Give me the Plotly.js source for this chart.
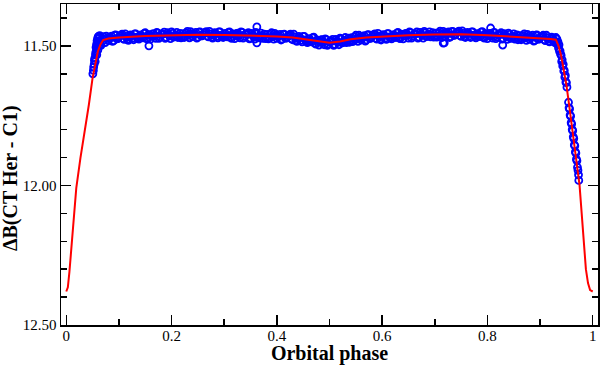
<!DOCTYPE html>
<html>
<head>
<meta charset="utf-8">
<script src="https://cdn.plot.ly/plotly-3.0.1.min.js"></script>
<style>html,body{margin:0;padding:0;background:#fff;}#chart{width:600px;height:365px;}</style>
</head>
<body>
<div id="chart"></div>
<script>
// Observed points, first set (phase, ΔB)
const obsPhase = [
0.0505,0.0515,0.052,0.053,0.0535,0.054,0.055,0.0555,0.056,0.0565,0.057,0.0575,0.058,0.0585,0.059,0.0595,0.060,0.0605,0.061,0.0615,0.062,0.0625,0.063,0.0635,
0.064,0.068,0.072,0.076,0.080,0.084,0.088,0.092,0.096,0.100,
0.104,0.108,0.112,0.116,0.120,0.124,0.128,0.132,0.136,0.140,
0.144,0.148,0.152,0.156,0.160,0.164,0.168,0.172,0.176,0.180,0.157,
0.184,0.188,0.192,0.196,0.200,0.204,0.208,0.212,0.216,0.220,
0.224,0.228,0.232,0.236,0.240,0.244,0.248,0.252,0.256,0.260,
0.264,0.268,0.272,0.276,0.280,0.284,0.288,0.292,0.296,0.300,
0.304,0.308,0.312,0.316,0.320,0.324,0.328,0.332,0.336,0.340,
0.344,0.348,0.352,0.356,0.360,0.364,0.368,0.372,0.376,0.380,0.362,0.362,
0.384,0.388,0.392,0.396,0.400,0.404,0.408,0.412,0.416,0.420,
0.424,0.428,0.432,0.436,0.440,0.444,0.448,0.452,0.456,0.460,
0.464,0.468,0.472,0.476,0.480,0.484,0.488,0.492,0.496,0.500,
0.504,0.508,0.512,0.516,0.520,0.524,0.528,0.532,0.536,0.540,
0.544,0.548,0.552,0.556,0.560,0.564,0.568,0.572,0.576,0.580,
0.584,0.588,0.592,0.596,0.600,0.604,0.608,0.612,0.616,0.620,
0.624,0.628,0.632,0.636,0.640,0.644,0.648,0.652,0.656,0.660,
0.664,0.668,0.672,0.676,0.680,0.684,0.688,0.692,0.696,0.700,
0.704,0.708,0.712,0.716,0.720,0.724,0.728,0.732,0.736,0.740,0.716,0.718,
0.744,0.748,0.752,0.756,0.760,0.764,0.768,0.772,0.776,0.780,
0.784,0.788,0.792,0.796,0.800,0.804,0.808,0.812,0.816,0.820,0.806,0.829,
0.824,0.828,0.832,0.836,0.840,0.844,0.848,0.852,0.856,0.860,
0.864,0.868,0.872,0.876,0.880,0.884,0.888,0.892,0.896,0.900,
0.904,0.908,0.912,0.916,0.920,0.924,0.928,
0.930,0.931,0.932,0.933,0.934,0.935,0.936,0.937,0.938,0.939,0.940,0.941,0.942,0.943,0.944,0.945,0.946,0.947,0.948,0.949,0.950,0.951,
0.954,0.955,0.956,0.957,0.958,0.959,0.960,0.961,0.962,0.963,0.964,0.965,0.966,0.967,0.968,0.969,0.970,0.971,0.972,0.973,0.9735
];
const obsMag = [
11.600,11.588,11.576,11.566,11.552,11.545,11.556,11.532,11.524,11.505,11.518,11.495,11.532,11.482,11.505,11.474,11.515,11.468,11.492,11.466,11.500,11.470,11.486,11.463,
11.498,11.474,11.479,11.465,11.481,11.470,11.484,11.462,11.475,11.469,
11.462,11.474,11.457,11.477,11.469,11.463,11.478,11.457,11.472,11.464,
11.468,11.455,11.473,11.460,11.476,11.457,11.464,11.452,11.473,11.460,11.500,
11.458,11.473,11.453,11.464,11.450,11.469,11.461,11.470,11.455,11.465,
11.470,11.454,11.462,11.449,11.467,11.457,11.472,11.451,11.464,11.459,
11.452,11.465,11.448,11.469,11.461,11.456,11.471,11.450,11.466,11.458,
11.465,11.452,11.470,11.457,11.474,11.455,11.462,11.450,11.472,11.459,
11.460,11.475,11.455,11.466,11.452,11.471,11.463,11.473,11.458,11.468,11.432,11.489,
11.475,11.459,11.467,11.455,11.473,11.464,11.479,11.459,11.472,11.468,
11.461,11.475,11.458,11.481,11.474,11.470,11.486,11.466,11.483,11.476,
11.482,11.471,11.490,11.479,11.497,11.479,11.487,11.475,11.498,11.486,
11.484,11.498,11.477,11.487,11.472,11.489,11.480,11.488,11.472,11.480,
11.485,11.468,11.476,11.462,11.479,11.468,11.483,11.461,11.473,11.468,
11.460,11.473,11.455,11.476,11.467,11.462,11.477,11.456,11.471,11.463,
11.467,11.454,11.471,11.458,11.475,11.456,11.462,11.450,11.472,11.459,
11.457,11.472,11.452,11.462,11.448,11.467,11.459,11.468,11.453,11.463,
11.469,11.453,11.461,11.448,11.466,11.455,11.470,11.449,11.462,11.457,11.490,11.489,
11.450,11.463,11.446,11.467,11.459,11.455,11.470,11.450,11.466,11.458,
11.464,11.451,11.469,11.456,11.474,11.456,11.464,11.452,11.474,11.461,11.436,11.497,
11.460,11.476,11.456,11.467,11.454,11.473,11.466,11.476,11.461,11.472,
11.478,11.463,11.471,11.459,11.477,11.468,11.483,11.462,11.476,11.471,
11.465,11.479,11.462,11.483,11.476,11.472,11.488,
11.470,11.488,11.476,11.495,11.486,11.508,11.496,11.520,11.518,11.530,11.534,11.556,11.550,11.572,11.566,11.590,11.588,11.612,11.606,11.630,11.632,11.648,
11.702,11.722,11.726,11.748,11.752,11.775,11.780,11.800,11.804,11.826,11.832,11.855,11.858,11.880,11.884,11.906,11.912,11.935,11.946,11.962,11.982
];
// Observed points, second set (interleaved nights)
const obsPhase2 = [
0.066,0.070,0.074,0.078,0.082,0.086,0.090,0.094,0.098,0.102,
0.106,0.110,0.114,0.118,0.122,0.126,0.130,0.134,0.138,0.142,
0.146,0.150,0.154,0.158,0.162,0.166,0.170,0.174,0.178,0.182,
0.186,0.190,0.194,0.198,0.202,0.206,0.210,0.214,0.218,0.222,
0.226,0.230,0.234,0.238,0.242,0.246,0.250,0.254,0.258,0.262,
0.266,0.270,0.274,0.278,0.282,0.286,0.290,0.294,0.298,0.302,
0.306,0.310,0.314,0.318,0.322,0.326,0.330,0.334,0.338,0.342,
0.346,0.350,0.354,0.358,0.362,0.366,0.370,0.374,0.378,0.382,
0.386,0.390,0.394,0.398,0.402,0.406,0.410,0.414,0.418,0.422,
0.426,0.430,0.434,0.438,0.442,0.446,0.450,0.454,0.458,0.462,
0.466,0.470,0.474,0.478,0.482,0.486,0.490,0.494,0.498,0.502,
0.506,0.510,0.514,0.518,0.522,0.526,0.530,0.534,0.538,0.542,
0.546,0.550,0.554,0.558,0.562,0.566,0.570,0.574,0.578,0.582,
0.586,0.590,0.594,0.598,0.602,0.606,0.610,0.614,0.618,0.622,
0.626,0.630,0.634,0.638,0.642,0.646,0.650,0.654,0.658,0.662,
0.666,0.670,0.674,0.678,0.682,0.686,0.690,0.694,0.698,0.702,
0.706,0.710,0.714,0.718,0.722,0.726,0.730,0.734,0.738,0.742,
0.746,0.750,0.754,0.758,0.762,0.766,0.770,0.774,0.778,0.782,
0.786,0.790,0.794,0.798,0.802,0.806,0.810,0.814,0.818,0.822,
0.826,0.830,0.834,0.838,0.842,0.846,0.850,0.854,0.858,0.862,
0.866,0.870,0.874,0.878,0.882,0.886,0.890,0.894,0.898,0.902,
0.906,0.910,0.914,0.918,0.922,0.926
];
const obsMag2 = [
11.498,11.467,11.488,11.471,11.474,11.465,11.481,11.461,11.474,11.464,
11.458,11.477,11.466,11.480,11.461,11.472,11.457,11.469,11.476,11.461,
11.471,11.453,11.476,11.461,11.466,11.457,11.473,11.454,11.467,11.457,
11.451,11.470,11.459,11.474,11.455,11.467,11.452,11.463,11.471,11.456,
11.466,11.448,11.471,11.456,11.461,11.452,11.469,11.450,11.464,11.454,
11.449,11.468,11.457,11.472,11.453,11.465,11.450,11.462,11.470,11.455,
11.468,11.450,11.473,11.458,11.463,11.454,11.471,11.452,11.466,11.456,
11.453,11.472,11.461,11.476,11.457,11.469,11.454,11.466,11.474,11.459,
11.471,11.453,11.476,11.462,11.467,11.459,11.476,11.458,11.472,11.463,
11.458,11.478,11.468,11.484,11.466,11.480,11.466,11.479,11.488,11.474,
11.486,11.469,11.494,11.480,11.487,11.478,11.496,11.478,11.493,11.482,
11.477,11.495,11.483,11.496,11.476,11.487,11.470,11.480,11.487,11.471,
11.481,11.462,11.484,11.469,11.473,11.463,11.479,11.460,11.473,11.463,
11.457,11.476,11.465,11.479,11.460,11.472,11.456,11.468,11.475,11.460,
11.470,11.452,11.474,11.459,11.464,11.455,11.472,11.453,11.466,11.456,
11.450,11.469,11.458,11.472,11.453,11.465,11.450,11.461,11.469,11.454,
11.465,11.447,11.470,11.455,11.459,11.450,11.467,11.448,11.462,11.452,
11.447,11.466,11.455,11.470,11.452,11.464,11.450,11.462,11.471,11.456,
11.467,11.449,11.472,11.458,11.464,11.455,11.472,11.453,11.468,11.458,
11.453,11.473,11.462,11.477,11.459,11.471,11.457,11.469,11.478,11.463,
11.474,11.457,11.480,11.466,11.471,11.462,11.480,11.461,11.476,11.466,
11.462,11.481,11.471,11.486,11.469,11.482
];
// Model light curve
const modelPhase = [0,0.003,0.006,0.009,0.014,0.019,0.027,0.0356,0.043,0.05,0.055,0.06,0.065,0.07,0.08,0.10,0.15,0.20,0.25,0.30,0.35,0.40,0.43,0.46,0.48,0.50,0.52,0.54,0.57,0.60,0.65,0.70,0.75,0.80,0.85,0.90,0.92,0.93,0.935,0.94,0.945,0.95,0.955,0.96,0.965,0.97,0.975,0.979,0.983,0.987,0.991,0.995,1.0];
const modelMag = [12.38,12.365,12.31,12.24,12.12,12.01,11.90,11.80,11.71,11.615,11.56,11.52,11.495,11.479,11.474,11.470,11.465,11.462,11.460,11.461,11.463,11.466,11.470,11.478,11.485,11.489,11.484,11.476,11.470,11.466,11.462,11.459,11.458,11.462,11.467,11.472,11.475,11.478,11.50,11.535,11.585,11.64,11.71,11.78,11.85,11.925,12.00,12.10,12.22,12.30,12.35,12.375,12.38];

const xTickVals = [0,0.2,0.4,0.6,0.8,1];
const xTickText = ["0","0.2","0.4","0.6","0.8","1"];
const yTickVals = [11.5,12.0,12.5];
const yTickText = ["11.50","12.00","12.50"];

const serif = "Liberation Serif, Times New Roman, serif";
const markerStyle = {symbol: 'circle-open', size: 7, color: '#0000ff', line: {width: 1.8, color: '#0000ff'}};
const traces = [
  {x: obsPhase, y: obsMag, mode: 'markers', type: 'scatter', marker: markerStyle, hoverinfo: 'skip', showlegend: false},
  {x: obsPhase2, y: obsMag2, mode: 'markers', type: 'scatter', marker: markerStyle, hoverinfo: 'skip', showlegend: false},
  {x: modelPhase, y: modelMag, mode: 'lines', type: 'scatter',
   line: {color: '#ff0000', width: 2}, hoverinfo: 'skip', showlegend: false}
];
const axisCommon = {
  showgrid: false, zeroline: false, showline: true, linecolor: '#000', linewidth: 1.5,
  mirror: 'allticks', ticks: 'inside', ticklen: 10, tickwidth: 1.5, tickcolor: '#000',
  tickfont: {family: serif, size: 15, color: '#000'},
  minor: {ticks: 'inside', ticklen: 6, tickwidth: 1.5, tickcolor: '#000', dtick: 0.1, showgrid: false}
};
const layout = {
  width: 600, height: 365,
  margin: {l: 61, r: 2, t: 4, b: 40},
  paper_bgcolor: '#fff', plot_bgcolor: '#fff',
  xaxis: Object.assign({}, axisCommon, {
    range: [-0.01, 1.01], tickmode: 'array', tickvals: xTickVals, ticktext: xTickText,
    ticklabelstandoff: -4,
    title: {text: 'Orbital phase', font: {family: serif, size: 20, color: '#000', weight: 'bold'}, standoff: 6}
  }),
  yaxis: Object.assign({}, axisCommon, {
    range: [12.5, 11.35], tickmode: 'array', tickvals: yTickVals, ticktext: yTickText
  }),
  annotations: [{
    text: 'ΔB(CT Her - C1)', textangle: -90, showarrow: false,
    xref: 'paper', yref: 'paper', x: -0.093, y: 0.458, xanchor: 'center', yanchor: 'middle',
    font: {family: serif, size: 20, color: '#000', weight: 'bold'}
  }]
};
Plotly.newPlot('chart', traces, layout, {displayModeBar: false, staticPlot: true});
</script>
</body>
</html>
